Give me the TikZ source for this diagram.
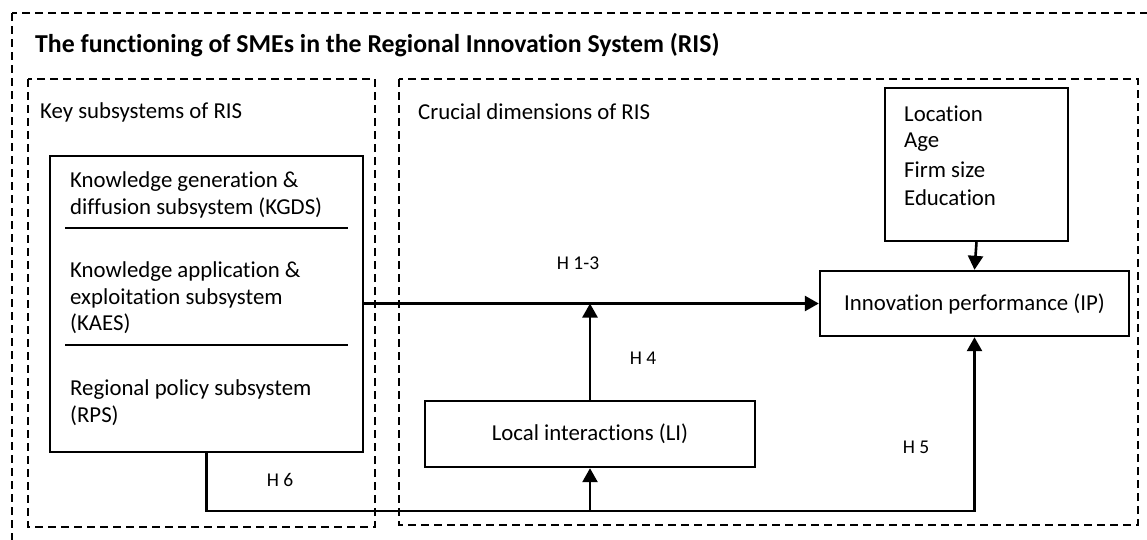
\documentclass[tikz,border=0pt]{standalone}
\usepackage{fontspec}
\setmainfont[Ligatures=NoCommon]{Carlito}
\usetikzlibrary{arrows.meta}

\tikzset{
  frame/.style={draw, line width=2.2pt, dash pattern=on 8pt off 5pt},
  boxline/.style={draw, line width=2.4pt, inner sep=0pt},
  conn/.style={line width=2.6pt},
  arr/.style={conn, -{Triangle[length=14pt,width=15pt]}},
  txt/.style={font=\fontsize{22.8}{27}\selectfont, inner sep=0pt},
  hyp/.style={font=\fontsize{19.5}{23}\selectfont, inner sep=0pt},
}

\begin{document}
\begin{tikzpicture}[x=1pt,y=-1pt]
  \useasboundingbox (0,0) rectangle (1147,539);
  \clip (0,0) rectangle (1147,539);

  % outer frame and the two inner frames
  \draw[frame] (12,13) rectangle (1170,580);
  \draw[frame] (28,79) rectangle (375,527);
  \draw[frame] (399,79) rectangle (1138,525);

  \node[anchor=west, inner sep=0pt, font=\fontsize{25.8}{30}\selectfont\bfseries] (title) at (35,45)
    {The functioning of SMEs in the Regional Innovation System (RIS)};
  \node[txt, anchor=west] (keysub) at (40,112) {Key subsystems of RIS};
  \node[txt, anchor=west] (crucial) at (418,112) {Crucial dimensions of RIS};

  % subsystems box
  \node[boxline, minimum width=313pt, minimum height=296pt] (ris) at (206.5,304) {};
  \node[txt, anchor=west] (kgds1) at (70,182) {Knowledge generation \&};
  \node[txt, anchor=west] (kgds2) at (70,208) {diffusion subsystem (KGDS)};
  \node[txt, anchor=west] (kaes1) at (70,272) {Knowledge application \&};
  \node[txt, anchor=west] (kaes2) at (70,298) {exploitation subsystem};
  \node[txt, anchor=west] (kaes3) at (70,324) {(KAES)};
  \node[txt, anchor=west] (rps1) at (70,390) {Regional policy subsystem};
  \node[txt, anchor=west] (rps2) at (70,416) {(RPS)};
  \draw[line width=1.8pt] (65,228) -- (348,228);
  \draw[line width=1.8pt] (65,345) -- (348,345);

  % dimension boxes
  \node[boxline, minimum width=330pt, minimum height=66pt, txt] (li) at (590,434) {Local interactions (LI)};
  \node[boxline, minimum width=309pt, minimum height=65pt, txt] (ip) at (974.5,303.5) {Innovation performance (IP)};
  \node[boxline, minimum width=183pt, minimum height=153pt] (ctrl) at (976.5,164.5) {};
  \node[txt, anchor=west] (loc) at (904,114) {Location};
  \node[txt, anchor=west] (age) at (904,142) {Age};
  \node[txt, anchor=west] (size) at (904,170) {Firm size};
  \node[txt, anchor=west] (edu) at (904,198) {Education};

  % connectors
  \coordinate (junc) at (590,303.5);
  \coordinate (h6corner) at (206.5,511);
  \coordinate (libase) at (590,511);
  \draw[arr] (ris.east |- ip.west) -- (ip.west);
  \draw[arr] (li.north) -- (junc);
  \draw[arr] (ctrl.south) -- (ip.north);
  \draw[arr] (ris.south) -- (h6corner) -- (h6corner -| ip.south) -- (ip.south);
  \draw[arr] (libase) -- (li.south);

  % hypothesis labels
  \node[hyp] (h13) at (578,263) {H 1-3};
  \node[hyp] (h4) at (643,358) {H 4};
  \node[hyp] (h5) at (916,447) {H 5};
  \node[hyp] (h6) at (280,480) {H 6};
\end{tikzpicture}
\end{document}
